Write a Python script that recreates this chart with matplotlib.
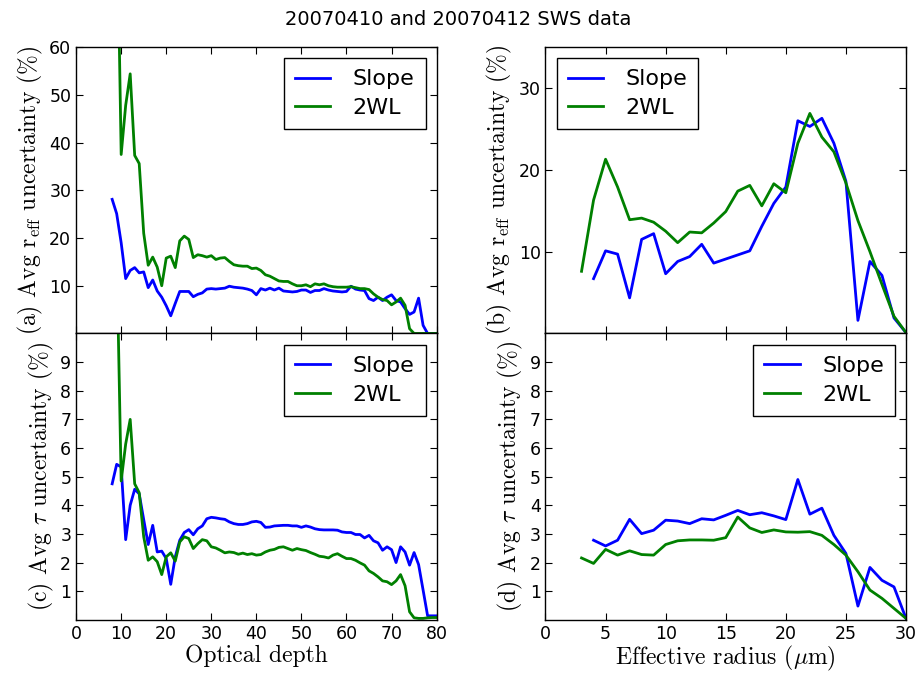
import numpy as np
import matplotlib
matplotlib.use("Agg")
import matplotlib.pyplot as plt

plt.rcParams['mathtext.fontset'] = 'cm'

# optical depth bins (left column) and effective radius bins (right column)
tau_bins = np.arange(8, 81)
reff_bins = np.arange(3, 31)

# (a) r_eff uncertainty vs optical depth
reff_slope_tau = [28.1, 25.1, 19.0, 11.5, 13.2, 13.8, 12.7, 12.9, 9.6, 11.2,
                  8.9, 7.6, 5.8, 3.7, 6.3, 8.8, 8.8, 8.8, 7.7, 8.2,
                  8.5, 9.3, 9.4, 9.3, 9.4, 9.5, 9.9, 9.7, 9.6, 9.5,
                  9.3, 9.0, 8.1, 9.4, 9.1, 9.5, 9.1, 9.5, 8.9, 8.8,
                  8.7, 8.8, 9.1, 9.1, 8.6, 9.0, 9.0, 9.4, 9.1, 8.9,
                  8.8, 8.7, 8.8, 9.9, 9.3, 9.1, 9.0, 7.3, 6.9, 7.6,
                  6.9, 7.6, 8.1, 6.9, 6.6, 5.2, 4.0, 4.5, 7.4, 1.7,
                  0.0, 0.0, 0.0]
reff_2wl_tau = [None, 94.0, 37.5, 47.8, 54.4, 37.3, 35.6, 21.0, 14.3, 16.0,
                13.9, 10.0, 15.8, 16.2, 13.8, 19.4, 20.4, 19.7, 15.9, 16.5,
                16.3, 16.0, 16.3, 15.5, 15.8, 15.9, 15.1, 14.4, 14.2, 14.1,
                14.1, 13.6, 13.7, 13.2, 12.3, 12.0, 11.5, 11.0, 10.9, 10.9,
                10.4, 10.0, 10.0, 10.2, 9.8, 10.4, 10.2, 10.4, 10.0, 9.8,
                9.7, 9.7, 9.7, 9.8, 9.6, 9.4, 9.4, 9.2, 8.3, 7.6,
                7.1, 6.9, 6.0, 6.6, 7.4, 5.9, 1.0, 0.0, 0.0, 0.0,
                0.0, 0.0, 0.0]

# (b) r_eff uncertainty vs effective radius
reff_slope_reff = [None, 6.7, 10.1, 9.7, 4.35, 11.5, 12.2, 7.3, 8.8, 9.4,
                   10.9, 8.6, 9.1, 9.6, 10.1, 13.1, 15.9, 17.9, 26.0, 25.3,
                   26.3, 23.25, 18.6, 1.6, 8.8, 7.1, 1.9, 0.1]
reff_2wl_reff = [7.6, 16.3, 21.3, 17.9, 13.9, 14.1, 13.6, 12.5, 11.1, 12.4,
                 12.3, 13.5, 14.9, 17.4, 18.1, 15.6, 18.3, 17.2, 23.25, 26.9,
                 24.0, 22.2, 18.4, 13.8, 10.0, 6.0, 2.1, 0.1]

# (c) tau uncertainty vs optical depth
tau_slope_tau = [4.75, 5.43, 5.34, 2.8, 4.0, 4.56, 4.4, 3.5, 2.63, 3.3,
                 2.37, 2.4, 2.14, 1.24, 2.2, 2.78, 3.05, 3.15, 2.97, 3.18,
                 3.28, 3.53, 3.58, 3.56, 3.53, 3.51, 3.42, 3.36, 3.33, 3.33,
                 3.36, 3.42, 3.44, 3.4, 3.23, 3.24, 3.28, 3.29, 3.3, 3.3,
                 3.28, 3.28, 3.23, 3.28, 3.24, 3.18, 3.15, 3.14, 3.14, 3.14,
                 3.13, 3.07, 3.05, 3.05, 2.98, 2.98, 2.86, 2.95, 2.76, 2.69,
                 2.43, 2.55, 2.45, 2.0, 2.55, 2.37, 1.91, 2.35, 1.93, 1.04,
                 0.14, 0.14, 0.14]
tau_2wl_tau = [None, 13.0, 4.85, 6.14, 7.0, 4.75, 4.44, 2.9, 2.08, 2.2,
               2.03, 1.58, 2.2, 2.34, 2.05, 2.72, 2.9, 2.84, 2.49, 2.66,
               2.8, 2.76, 2.55, 2.51, 2.43, 2.34, 2.37, 2.35, 2.29, 2.33,
               2.28, 2.31, 2.26, 2.28, 2.37, 2.43, 2.46, 2.53, 2.55, 2.49,
               2.43, 2.49, 2.45, 2.42, 2.35, 2.29, 2.22, 2.2, 2.16, 2.26,
               2.31, 2.22, 2.14, 2.14, 2.08, 1.99, 1.91, 1.71, 1.62, 1.5,
               1.36, 1.33, 1.23, 1.36, 1.58, 1.19, 0.28, 0.07, 0.05, 0.05,
               0.07, 0.08, 0.08]

# (d) tau uncertainty vs effective radius
tau_slope_reff = [None, 2.78, 2.58, 2.78, 3.51, 3.01, 3.13, 3.48, 3.45, 3.36,
                  3.53, 3.49, 3.65, 3.82, 3.67, 3.74, 3.63, 3.5, 4.9, 3.69,
                  3.9, 2.95, 2.32, 0.48, 1.83, 1.38, 1.15, 0.05]
tau_2wl_reff = [2.16, 1.97, 2.46, 2.26, 2.41, 2.28, 2.26, 2.63, 2.76, 2.79,
                2.79, 2.78, 2.87, 3.59, 3.21, 3.05, 3.14, 3.07, 3.06, 3.08,
                2.95, 2.63, 2.26, 1.68, 1.04, 0.75, 0.4, 0.05]


def arr(vals):
    return np.array([np.nan if v is None else v for v in vals], dtype=float)


fig, axes = plt.subplots(2, 2, figsize=(9.17, 6.73), dpi=100)
fig.subplots_adjust(left=0.083, right=0.988, top=0.930, bottom=0.079,
                    hspace=0.0, wspace=0.302)

panels = [
    (axes[0, 0], tau_bins, reff_slope_tau, reff_2wl_tau, 'upper right',
     r'(a) Avg r$_{\rm eff}$ uncertainty (%)', (0, 80), (0, 60), range(10, 61, 10)),
    (axes[0, 1], reff_bins, reff_slope_reff, reff_2wl_reff, 'upper left',
     r'(b) Avg r$_{\rm eff}$ uncertainty (%)', (0, 30), (0, 35), range(10, 31, 10)),
    (axes[1, 0], tau_bins, tau_slope_tau, tau_2wl_tau, 'upper right',
     r'(c) Avg $\tau$ uncertainty (%)', (0, 80), (0, 10), range(1, 10)),
    (axes[1, 1], reff_bins, tau_slope_reff, tau_2wl_reff, 'upper right',
     r'(d) Avg $\tau$ uncertainty (%)', (0, 30), (0, 10), range(1, 10)),
]

for ax, xs, slope, twl, loc, ylab, xl, yl, yt in panels:
    ax.plot(xs, arr(slope), color='b', lw=2, label='Slope')
    ax.plot(xs, arr(twl), color='g', lw=2, label='2WL')
    ax.set_xlim(*xl)
    ax.set_ylim(*yl)
    ax.set_yticks(list(yt))
    ax.set_ylabel(ylab, fontfamily='cmr10', fontsize=17, labelpad=3)
    ax.tick_params(direction='in', top=True, right=True, length=5,
                   labelsize=12.5, width=0.8)
    leg = ax.legend(loc=loc, fontsize=16, fancybox=False, framealpha=1,
                    handlelength=1.6, handletextpad=1.0, borderpad=0.5,
                    labelspacing=0.4)
    leg.get_frame().set_edgecolor('black')
    for s in ax.spines.values():
        s.set_linewidth(1.0)

axes[0, 0].set_xticks(range(0, 81, 10))
axes[1, 0].set_xticks(range(0, 81, 10))
axes[0, 1].set_xticks(range(0, 31, 5))
axes[1, 1].set_xticks(range(0, 31, 5))
axes[0, 0].tick_params(labelbottom=False)
axes[0, 1].tick_params(labelbottom=False)

axes[1, 0].set_xlabel('Optical depth', fontfamily='cmr10', fontsize=17, labelpad=1)
axes[1, 1].set_xlabel(r'Effective radius ($\mu$m)', fontfamily='cmr10',
                      fontsize=17, labelpad=1)

fig.suptitle('20070410 and 20070412 SWS data', fontsize=14, y=0.985)

fig.savefig('out.png', dpi=100)
